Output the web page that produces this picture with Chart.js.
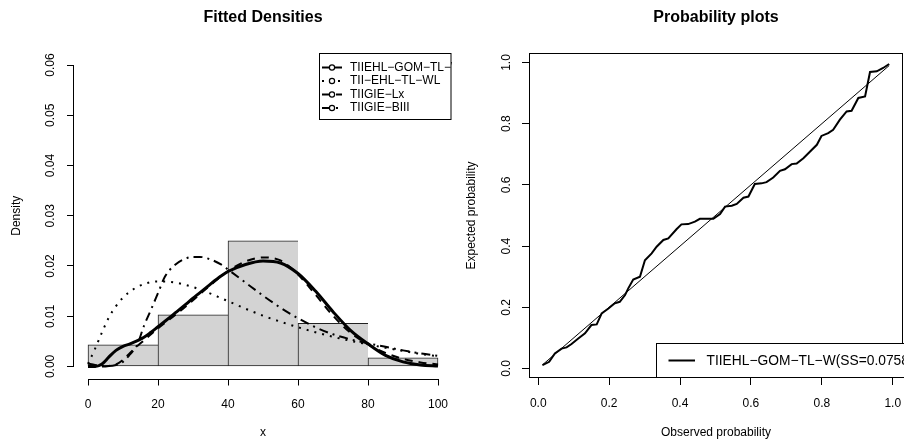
<!DOCTYPE html>
<html>
<head>
<meta charset="utf-8">
<script src="https://cdn.jsdelivr.net/npm/chart.js@4.4.1/dist/chart.umd.min.js"></script>
<style>
  body { margin: 0; background: #fff; }
  #wrap { position: relative; width: 904px; height: 443px; }
  .panel { position: absolute; top: 0; width: 452px; height: 443px; }
</style>
</head>
<body>
<div id="wrap">
  <div class="panel" style="left:0"><canvas id="dens" width="452" height="443"></canvas></div>
  <div class="panel" style="left:452px"><canvas id="pp" width="452" height="443"></canvas></div>
</div>
<script>
// --- histogram (bin mids / density) ---
const histMid = [10, 30, 50, 70, 90];
const histDensity = [0.0043, 0.0103, 0.025, 0.0086, 0.0017];

// --- fitted density curves ---
const gridX = [0, 2, 4, 6, 8, 10, 12, 14, 16, 18, 20, 22, 25, 28, 30, 32, 35, 38, 40, 45, 50, 55, 60, 65, 70, 75, 80, 85, 90, 95, 100];
const fitGomTlW = [0, 0, 0.0005, 0.0019, 0.0032, 0.0040, 0.0045, 0.0051, 0.0058, 0.0068, 0.0079, 0.0090, 0.0107, 0.0124, 0.0136, 0.0147, 0.0164, 0.0180, 0.0189, 0.0203, 0.0210, 0.0206, 0.0185, 0.0150, 0.0109, 0.0072, 0.0045, 0.0022, 0.0009, 0.0003, 0.0001];
const fitEhlTlWl = [0.0005, 0.0035, 0.0068, 0.0098, 0.0120, 0.0137, 0.0149, 0.0158, 0.0164, 0.0168, 0.0169, 0.0169, 0.0167, 0.0162, 0.0158, 0.0153, 0.0145, 0.0136, 0.0130, 0.0115, 0.0101, 0.0089, 0.0078, 0.0068, 0.0059, 0.0051, 0.0044, 0.0037, 0.0031, 0.0025, 0.0020];
const fitGieLx = [0, 0, 0, 0.0001, 0.0004, 0.0013, 0.0027, 0.0040, 0.0052, 0.0064, 0.0076, 0.0087, 0.0103, 0.0120, 0.0132, 0.0144, 0.0162, 0.0179, 0.0190, 0.0209, 0.0217, 0.0211, 0.0183, 0.0143, 0.0101, 0.0067, 0.0044, 0.0027, 0.0015, 0.0008, 0.0004];
const fitGieBiii = [0.0006, 0.0003, 0.0001, 0.0001, 0.0003, 0.0009, 0.0024, 0.0042, 0.0081, 0.0113, 0.0146, 0.0179, 0.0203, 0.0215, 0.0218, 0.0218, 0.0213, 0.0203, 0.0193, 0.0167, 0.0141, 0.0117, 0.0096, 0.0078, 0.0064, 0.0054, 0.0046, 0.0039, 0.0032, 0.0026, 0.0021];
const modelNames = ["TIIEHL−GOM−TL−W", "TII−EHL−TL−WL", "TIIGIE−Lx", "TIIGIE−BIII"];
const densXTicks = [0, 20, 40, 60, 80, 100];
const densYTicks = [0, 0.01, 0.02, 0.03, 0.04, 0.05, 0.06];

// --- P-P plot ---
const obsProb = [0.012, 0.031, 0.047, 0.066, 0.08, 0.094, 0.113, 0.132, 0.15, 0.165, 0.179, 0.198, 0.216, 0.23, 0.245, 0.254, 0.268, 0.287, 0.301, 0.32, 0.334, 0.353, 0.367, 0.39, 0.404, 0.423, 0.442, 0.456, 0.475, 0.494, 0.513, 0.527, 0.546, 0.56, 0.579, 0.593, 0.611, 0.63, 0.644, 0.663, 0.682, 0.696, 0.715, 0.729, 0.748, 0.767, 0.786, 0.799, 0.818, 0.832, 0.851, 0.87, 0.884, 0.903, 0.922, 0.936, 0.955, 0.973, 0.99];
const expProb = [0.011, 0.022, 0.049, 0.065, 0.069, 0.08, 0.098, 0.115, 0.142, 0.144, 0.18, 0.196, 0.213, 0.218, 0.24, 0.262, 0.291, 0.3, 0.354, 0.376, 0.398, 0.42, 0.425, 0.455, 0.471, 0.472, 0.48, 0.489, 0.489, 0.489, 0.505, 0.529, 0.532, 0.538, 0.558, 0.562, 0.603, 0.605, 0.609, 0.624, 0.646, 0.651, 0.668, 0.67, 0.687, 0.709, 0.731, 0.76, 0.769, 0.78, 0.813, 0.84, 0.842, 0.884, 0.889, 0.969, 0.971, 0.982, 0.995];
const ppTicks = [0, 0.2, 0.4, 0.6, 0.8, 1.0];
const ppLegend = "TIIEHL−GOM−TL−W(SS=0.0758)";

const FONT = '"Liberation Sans", Arial, Helvetica, sans-serif';
Chart.defaults.font.family = FONT;
Chart.defaults.font.size = 12;
Chart.defaults.color = "#000";

const toPoints = (xs, ys) => xs.map((x, i) => ({ x: x, y: ys[i] }));

// keep the plot region fixed: no extra room for labels hanging over the ends
const noPad = s => { s.paddingLeft = 0; s.paddingRight = 0; s.paddingTop = 0; s.paddingBottom = 0; };

// R style axes: line only between first and last tick, or full box
const rAxes = {
  id: "rAxes",
  afterDraw(chart, args, opts) {
    const ctx = chart.ctx;
    const a = chart.chartArea;
    const { x, y } = chart.scales;
    ctx.save();
    ctx.strokeStyle = "#000";
    ctx.lineWidth = 1;
    if (opts.box) {
      ctx.strokeRect(Math.round(a.left) + 0.5, Math.round(a.top) + 0.5,
        Math.round(a.right) - Math.round(a.left) - 1, Math.round(a.bottom) - Math.round(a.top) - 1);
    } else {
      const xt = x.ticks, yt = y.ticks;
      const by = Math.round(a.bottom) + 0.5, lx = Math.round(a.left) - 0.5;
      ctx.beginPath();
      ctx.moveTo(Math.round(x.getPixelForValue(xt[0].value)) + 0.5, by);
      ctx.lineTo(Math.round(x.getPixelForValue(xt[xt.length - 1].value)) + 0.5, by);
      ctx.moveTo(lx, Math.round(y.getPixelForValue(yt[0].value)) + 0.5);
      ctx.lineTo(lx, Math.round(y.getPixelForValue(yt[yt.length - 1].value)) + 0.5);
      ctx.stroke();
    }
    ctx.restore();
  }
};

// legend box in the top right corner of the density panel
const densLegend = {
  id: "densLegend",
  afterDraw(chart) {
    const ctx = chart.ctx;
    const a = chart.chartArea;
    const lines = chart.data.datasets.filter(d => d.type === "line");
    ctx.save();
    ctx.strokeStyle = "#000";
    ctx.lineWidth = 1;
    ctx.strokeRect(319.5, Math.round(a.top) + 0.5, Math.round(a.right) - 1 - 319.5, 119.5 - Math.round(a.top) - 0.5);
    ctx.font = "12px " + FONT;
    ctx.textBaseline = "middle";
    lines.forEach((d, i) => {
      const yy = 67.5 + i * 13.5;
      ctx.strokeStyle = "#000";
      ctx.setLineDash(d.borderDash || []);
      ctx.lineWidth = 2;
      ctx.beginPath();
      ctx.moveTo(322, yy);
      ctx.lineTo(342, yy);
      ctx.stroke();
      ctx.setLineDash([]);
      ctx.lineWidth = 1.2;
      ctx.beginPath();
      ctx.arc(332, yy, 2.6, 0, Math.PI * 2);
      ctx.fillStyle = "#fff";
      ctx.fill();
      ctx.stroke();
      ctx.fillStyle = "#000";
      ctx.fillText(d.label, 350, yy);
    });
    ctx.restore();
  }
};

// legend at the bottom right of the P-P panel
const ppLegendBox = {
  id: "ppLegendBox",
  afterDraw(chart) {
    const ctx = chart.ctx;
    const a = chart.chartArea;
    const d = chart.data.datasets[1];
    ctx.save();
    ctx.fillStyle = "#fff";
    ctx.fillRect(205, 344, 260, Math.round(a.bottom) - 344);
    ctx.strokeStyle = "#000";
    ctx.lineWidth = 1;
    ctx.strokeRect(204.5, 343.5, 260, Math.round(a.bottom) - 344);
    ctx.lineWidth = 2;
    ctx.beginPath();
    ctx.moveTo(216.5, 360.5);
    ctx.lineTo(243, 360.5);
    ctx.stroke();
    ctx.fillStyle = "#000";
    ctx.font = "13.8px " + FONT;
    ctx.textBaseline = "middle";
    ctx.fillText(d.label, 254.5, 361);
    ctx.restore();
  }
};

const lineStyle = (label, ys, width, dash) => ({
  type: "line",
  label: label,
  data: toPoints(gridX, ys),
  borderColor: "#000",
  borderWidth: width,
  borderDash: dash,
  pointRadius: 0,
  cubicInterpolationMode: "monotone",
  fill: false,
  order: 0
});

new Chart(document.getElementById("dens"), {
  type: "bar",
  data: {
    datasets: [
      lineStyle(modelNames[0], fitGomTlW, 3, []),
      lineStyle(modelNames[1], fitEhlTlWl, 2, [2, 6]),
      lineStyle(modelNames[2], fitGieLx, 2, [8, 6]),
      lineStyle(modelNames[3], fitGieBiii, 2, [9, 5, 2, 5]),
      {
        type: "bar",
        label: "hist",
        data: toPoints(histMid, histDensity),
        backgroundColor: "#d3d3d3",
        borderColor: "#222",
        borderWidth: c => ({ top: 1, left: 1, bottom: 1, right: c.dataIndex === histMid.length - 1 ? 1 : 0 }),
        borderSkipped: false,
        barPercentage: 1,
        categoryPercentage: 1,
        grouped: false,
        order: 10
      }
    ]
  },
  options: {
    responsive: false,
    animation: false,
    layout: { padding: 0 },
    plugins: {
      legend: { display: false },
      tooltip: { enabled: false },
      title: {
        display: true, text: "Fitted Densities", fullSize: false, color: "#000",
        font: { size: 16, weight: "bold" }, padding: { top: 8.4, bottom: 25.4 }
      },
      rAxes: { box: false }
    },
    scales: {
      x: {
        type: "linear", min: -4, max: 104, offset: false,
        afterBuildTicks: s => { s.ticks = densXTicks.map(v => ({ value: v })); },
        afterFit: s => { s.height = 64.5; noPad(s); },
        grid: { offset: false, drawOnChartArea: false, drawTicks: true, tickLength: 7, color: "#000" },
        border: { display: false },
        ticks: { autoSkip: false, maxRotation: 0, padding: 12, callback: v => String(v) },
        title: { display: true, text: "x", padding: { top: 0, bottom: 3 } }
      },
      y: {
        type: "linear", min: -0.0024, max: 0.0624,
        afterBuildTicks: s => { s.ticks = densYTicks.map(v => ({ value: v })); },
        afterFit: s => { s.width = 74; noPad(s); },
        grid: { drawOnChartArea: false, drawTicks: true, tickLength: 7, color: "#000" },
        border: { display: false },
        ticks: { autoSkip: false, minRotation: 90, maxRotation: 90, crossAlign: "center", padding: 4.8, callback: v => v.toFixed(2) },
        title: { display: true, text: "Density", padding: { top: 9.5, bottom: 0 } }
      }
    }
  },
  plugins: [rAxes, densLegend]
});

new Chart(document.getElementById("pp"), {
  type: "line",
  data: {
    datasets: [
      {
        label: "diag",
        data: [{ x: obsProb[0], y: obsProb[0] }, { x: obsProb[obsProb.length - 1], y: obsProb[obsProb.length - 1] }],
        borderColor: "#000", borderWidth: 1, pointRadius: 0, tension: 0
      },
      {
        label: ppLegend,
        data: toPoints(obsProb, expProb),
        borderColor: "#000", borderWidth: 2, pointRadius: 0, tension: 0
      }
    ]
  },
  options: {
    responsive: false,
    animation: false,
    layout: { padding: { right: 1 } },
    plugins: {
      legend: { display: false },
      tooltip: { enabled: false },
      title: {
        display: true, text: "Probability plots", fullSize: false, color: "#000",
        font: { size: 16, weight: "bold" }, padding: { top: 8.4, bottom: 25.4 }
      },
      rAxes: { box: true }
    },
    scales: {
      x: {
        type: "linear", min: -0.026, max: 1.029,
        afterBuildTicks: s => { s.ticks = ppTicks.map(v => ({ value: v })); },
        afterFit: s => { s.height = 65; noPad(s); },
        grid: { drawOnChartArea: false, drawTicks: true, tickLength: 7, color: "#000" },
        border: { display: false },
        ticks: { autoSkip: false, maxRotation: 0, padding: 11, callback: v => v.toFixed(1) },
        title: { display: true, text: "Observed probability", padding: { top: 0, bottom: 3 } }
      },
      y: {
        type: "linear", min: -0.031, max: 1.031,
        afterBuildTicks: s => { s.ticks = ppTicks.map(v => ({ value: v })); },
        afterFit: s => { s.width = 77; noPad(s); },
        grid: { drawOnChartArea: false, drawTicks: true, tickLength: 7, color: "#000" },
        border: { display: false },
        ticks: { autoSkip: false, minRotation: 90, maxRotation: 90, crossAlign: "center", padding: 6.6, callback: v => v.toFixed(1) },
        title: { display: true, text: "Expected probability", padding: { top: 12.8, bottom: 0 } }
      }
    }
  },
  plugins: [rAxes, ppLegendBox]
});
</script>
</body>
</html>
